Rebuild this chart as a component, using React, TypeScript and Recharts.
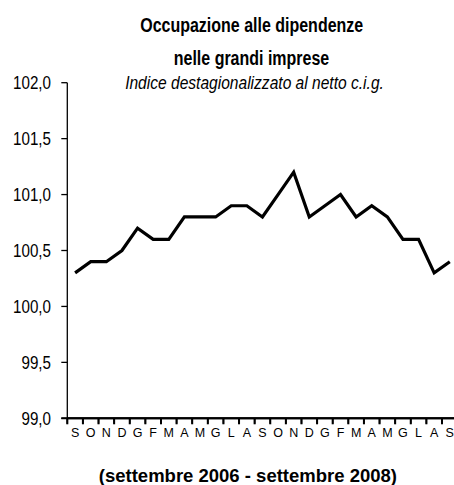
import { LineChart, Line, XAxis, YAxis } from 'recharts';

const months = ['S', 'O', 'N', 'D', 'G', 'F', 'M', 'A', 'M', 'G', 'L', 'A', 'S', 'O', 'N', 'D', 'G', 'F', 'M', 'A', 'M', 'G', 'L', 'A', 'S'];
const indexValues = [100.3, 100.4, 100.4, 100.5, 100.7, 100.6, 100.6, 100.8, 100.8, 100.8, 100.9, 100.9, 100.8, 101.0, 101.2, 100.8, 100.9, 101.0, 100.8, 100.9, 100.8, 100.6, 100.6, 100.3, 100.4];
const yTicks = [99, 99.5, 100, 100.5, 101, 101.5, 102];

const titleLines = ['Occupazione alle dipendenze', 'nelle grandi imprese'];
const subtitle = 'Indice destagionalizzato al netto c.i.g.';
const footer = '(settembre 2006 - settembre 2008)';

const SANS = "'Liberation Sans', Arial, sans-serif";
// no narrow face installed, so squeeze the regular one like Arial Narrow
const NARROW_SCALE = 0.82;

// x = category centre, ticks sit on the category boundaries like the original
const rows = months.map((m, i) => ({ x: i + 0.5, month: m, value: indexValues[i] }));
const boundaryTicks = months.map((_, i) => i).concat(months.length);

const fmtY = (v: number) => v.toFixed(1).replace('.', ',');

const W = 480;
const H = 485;
const PLOT_LEFT = 67.3;
const PLOT_RIGHT = 457.6;
const PLOT_TOP = 82.7;
const PLOT_BOTTOM = 418.3;
const STEP = (PLOT_RIGHT - PLOT_LEFT) / months.length;
const X_TICK_SIZE = 6;
const X_TICK_MARGIN = 4.3;

const yAxisStroke = { stroke: '#000', strokeWidth: 1.3 };
const xAxisStroke = { stroke: '#000', strokeWidth: 2 };

const YTick = ({ x, y, payload }: any) => (
    <text
        transform={`translate(${x},${y}) scale(${NARROW_SCALE},1)`}
        textAnchor="end"
        dy="0.36em"
        fontFamily={SANS}
        fontSize={18.5}
        fill="#000"
    >
        {fmtY(payload.value)}
    </text>
);

// label half a category to the right of its boundary tick
const MonthTick = ({ x, y, payload }: any) => {
    const label = months[payload.value];
    if (!label) return null;
    return (
        <text x={x + STEP / 2} y={y} dy="0.71em" textAnchor="middle" fontFamily={SANS} fontSize={12.5} fill="#000">
            {label}
        </text>
    );
};

const NarrowText = ({ x, y, children, ...rest }: any) => (
    <text transform={`translate(${x},${y}) scale(${NARROW_SCALE},1)`} textAnchor="middle" fontFamily={SANS} fill="#000" {...rest}>
        {children}
    </text>
);

export default function App() {
    return (
        <div style={{ position: 'fixed', left: 0, top: 0, width: 454, height: 485, overflow: 'hidden', background: '#fff' }}>
            <LineChart
                width={W}
                height={H}
                data={rows}
                margin={{ top: PLOT_TOP, right: W - PLOT_RIGHT, bottom: H - PLOT_BOTTOM - 30, left: 0 }}
            >
                <XAxis
                    type="number"
                    dataKey="x"
                    domain={[0, months.length]}
                    ticks={boundaryTicks}
                    interval={0}
                    tick={<MonthTick />}
                    tickSize={X_TICK_SIZE}
                    tickMargin={X_TICK_MARGIN}
                    height={30}
                    axisLine={xAxisStroke}
                    tickLine={xAxisStroke}
                />
                <YAxis
                    type="number"
                    domain={[99, 102]}
                    ticks={yTicks}
                    width={PLOT_LEFT}
                    tickSize={6}
                    tickMargin={10.3}
                    interval={0}
                    axisLine={yAxisStroke}
                    tickLine={yAxisStroke}
                    tick={<YTick />}
                />
                <Line
                    type="linear"
                    dataKey="value"
                    stroke="#000"
                    strokeWidth={3.2}
                    dot={false}
                    isAnimationActive={false}
                />
            </LineChart>
            <svg width={454} height={485} style={{ position: 'absolute', left: 0, top: 0, pointerEvents: 'none' }}>
                {/* x axis baseline and boundary ticks, drawn on top as a fallback */}
                <line x1={PLOT_LEFT - 6} x2={PLOT_RIGHT} y1={PLOT_BOTTOM} y2={PLOT_BOTTOM} stroke="#000" strokeWidth={2} />
                {boundaryTicks.map(t => (
                    <line
                        key={t}
                        x1={PLOT_LEFT + t * STEP}
                        x2={PLOT_LEFT + t * STEP}
                        y1={PLOT_BOTTOM}
                        y2={PLOT_BOTTOM + 5.4}
                        stroke="#000"
                        strokeWidth={1.5}
                    />
                ))}
                <NarrowText x={251.7} y={32} fontWeight="bold" fontSize={19.5}>
                    {titleLines[0]}
                </NarrowText>
                <NarrowText x={251.5} y={65} fontWeight="bold" fontSize={19.5}>
                    {titleLines[1]}
                </NarrowText>
                <NarrowText x={254.5} y={88.7} fontStyle="italic" fontSize={19}>
                    {subtitle}
                </NarrowText>
                <text x={247.9} y={481.5} textAnchor="middle" fontFamily={SANS} fontWeight="bold" fontSize={18.5} fill="#000">
                    {footer}
                </text>
            </svg>
        </div>
    );
}
